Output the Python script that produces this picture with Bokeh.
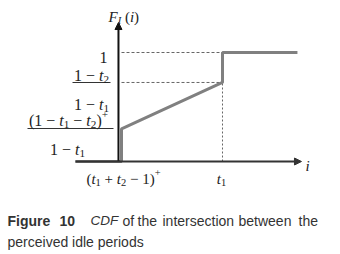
from bokeh.plotting import figure
from bokeh.models import Label, Arrow, NormalHead, Range1d
from bokeh.embed import file_html
from bokeh.resources import INLINE

# ---- data (abstract units) ----
x_start = 0.022          # left end of drawn axis / CDF
x_jump = 0.25            # (t1 + t2 - 1)^+
x_t1 = 0.75              # t1
x_end = 1.121            # right end of CDF
F_jump = 0.30            # (1 - t1 - t2)^+ / (1 - t1)
F_t1 = 0.725             # (1 - t2) / (1 - t1)
F_top = 1.0
cdf_x = [x_start, x_jump, x_jump, x_t1, x_t1, x_end]
cdf_y = [0.0, 0.0, F_jump, F_t1, F_top, F_top]

# ---- layout ----
W, H = 340, 254
X0 = 0.25 - 121 / 202
X1 = X0 + W / 202
Y1 = 161 / 109
Y0 = Y1 - H / 109
x_axis_pos = 0.235
x_arrow_end = 1.141
y_arrow_end = 1.275


def dx(ix):
    return X0 + ix / W * (X1 - X0)


def dy(iy):
    return Y1 - iy / H * (Y1 - Y0)


p = figure(width=W, height=H, x_range=Range1d(X0, X1), y_range=Range1d(Y0, Y1),
           output_backend="svg", toolbar_location=None, min_border=0,
           x_axis_type=None, y_axis_type=None)
p.grid.visible = False
p.outline_line_color = None
p.background_fill_color = "white"

# guide lines
p.line([x_jump, x_t1], [F_top, F_top], line_dash="3 2", line_color="#666666", line_width=1)
p.line([x_jump, x_t1], [F_t1, F_t1], line_dash="3 2", line_color="#666666", line_width=1)
p.line([x_t1, x_t1], [0, F_t1], line_dash="2 2", line_color="#666666", line_width=1)

# CDF
p.line(cdf_x, cdf_y, line_width=3, line_color="#808080")

# axes
p.add_layout(Arrow(x_start=x_axis_pos, y_start=0, x_end=x_axis_pos, y_end=y_arrow_end,
                   line_width=2, line_color="#111111",
                   end=NormalHead(size=7, fill_color="#111111", line_color="#111111")))
p.add_layout(Arrow(x_start=x_start, y_start=0, x_end=x_arrow_end, y_end=0,
                   line_width=2, line_color="#333333",
                   end=NormalHead(size=7, fill_color="#333333", line_color="#333333")))

WID = {'1': 0.5, '2': 0.5, ' ': 0.25, '−': 0.564, '+': 0.564, '(': 0.333, ')': 0.333,
       't': 0.278, 'i': 0.278, 'F': 0.611, 'I': 0.333}


def run_w(t, kind, size):
    fs = size * (0.7 if kind.startswith("sub") or kind == "sup" else 1.0)
    return sum(WID.get(c, 0.5) for c in t) * fs


def place(runs, ix, base, size, align="left", color="#222222"):
    total = sum(run_w(t, k, size) for t, k in runs)
    if align == "right":
        cur = ix - total
    elif align == "center":
        cur = ix - total / 2
    else:
        cur = ix
    for t, k in runs:
        w = run_w(t, k, size)
        if t.strip():
            small = k.startswith("sub") or k == "sup"
            fs = size * (0.7 if small else 1.0)
            off = 4 if k.startswith("sub") else (-6 if k == "sup" else 0)
            style = "italic" if k in ("i", "sub_i") else "normal"
            p.add_layout(Label(x=dx(cur), y=dy(base + off), text=t,
                               text_font="Liberation Serif", text_font_size=f"{fs:.1f}px",
                               text_font_style=style, text_color=color,
                               text_baseline="alphabetic", text_align="left"))
        cur += w


one_minus_t1 = [("1", "n"), (" ", "s"), ("−", "n"), (" ", "s"), ("t", "i"), ("1", "sub")]
one_minus_t2 = [("1", "n"), (" ", "s"), ("−", "n"), (" ", "s"), ("t", "i"), ("2", "sub")]

place([("1", "n")], 107, 57, 16, "right")
place(one_minus_t2, 91, 75, 16, "center")
p.line([dx(72), dx(110)], [dy(82), dy(82)], line_color="#333333", line_width=1)
place(one_minus_t1, 91, 104, 16, "center")
place([("(", "n"), ("1", "n"), (" ", "s"), ("−", "n"), (" ", "s"), ("t", "i"), ("1", "sub"),
       (" ", "s"), ("−", "n"), (" ", "s"), ("t", "i"), ("2", "sub"), (")", "n"), ("+", "sup")],
      68, 120, 16, "center")
p.line([dx(27), dx(113)], [dy(128), dy(128)], line_color="#333333", line_width=1)
place(one_minus_t1, 67, 149, 16, "center")

place([("(", "n"), ("t", "i"), ("1", "sub"), (" ", "s"), ("+", "n"), (" ", "s"), ("t", "i"),
       ("2", "sub"), (" ", "s"), ("−", "n"), (" ", "s"), ("1", "n"), (")", "n"), ("+", "sup")],
      123, 178, 15, "center")
place([("t", "i"), ("1", "sub")], 221, 178, 15, "center")
place([("F", "i"), ("I", "sub_i"), (" ", "s"), ("(", "n"), ("i", "i"), (")", "n")], 108, 16, 15, "left")
place([("i", "i")], 305, 165, 15, "left")

# caption
cap_words = ["Figure", "10", "CDF", "of", "the", "intersection", "between", "the"]
cap_x = [7, 59, 90, 122, 137, 162, 238, 298]
cap_style = ["bold", "bold", "italic", "normal", "normal", "normal", "normal", "normal"]
cap_size = ["14px", "14px", "13.5px", "14px", "14px", "14px", "14px", "14px"]
for w_, x_, s_, fs_ in zip(cap_words, cap_x, cap_style, cap_size):
    p.add_layout(Label(x=dx(x_), y=dy(220), text=w_, text_font="Liberation Sans",
                       text_font_size=fs_, text_font_style=s_, text_color="#333333",
                       text_baseline="alphabetic", text_align="left"))
p.add_layout(Label(x=dx(7), y=dy(241), text="perceived idle periods", text_font="Liberation Sans",
                   text_font_size="14px", text_color="#333333",
                   text_baseline="alphabetic", text_align="left"))

open("out.html", "w").write(file_html(p, INLINE))
